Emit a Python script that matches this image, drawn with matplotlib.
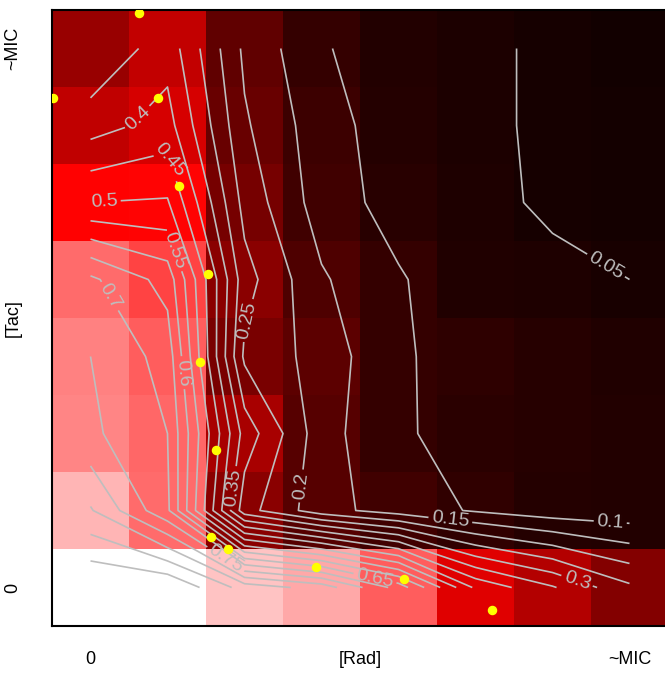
import numpy as np
import matplotlib
matplotlib.use("Agg")
import matplotlib.pyplot as plt
from matplotlib.colors import LinearSegmentedColormap

plt.rcParams['font.family'] = ['Liberation Sans', 'DejaVu Sans']

# surviving fraction, rows = [Tac] from 0 up to ~MIC, cols = [Rad] from 0 up to ~MIC
row_tac0 = [1.00, 1.00, 0.88, 0.83, 0.68, 0.44, 0.355, 0.26]
row_tac1 = [0.855, 0.71, 0.27, 0.17, 0.125, 0.095, 0.072, 0.068]
row_tac2 = [0.76, 0.70, 0.33, 0.17, 0.105, 0.085, 0.078, 0.07]
row_tac3 = [0.75, 0.68, 0.24, 0.18, 0.103, 0.09, 0.075, 0.065]
row_tac4 = [0.71, 0.63, 0.27, 0.156, 0.105, 0.065, 0.059, 0.05]
row_tac5 = [0.50, 0.505, 0.232, 0.126, 0.08, 0.06, 0.044, 0.04]
row_tac6 = [0.378, 0.42, 0.207, 0.121, 0.073, 0.058, 0.043, 0.04]
row_tac7 = [0.30, 0.38, 0.19, 0.105, 0.07, 0.058, 0.043, 0.038]

# isobole points (grid index units)
pts_rad = [0.63, -0.487, 0.877, 1.149, 1.522, 1.422, 1.634, 1.565, 1.782, 2.925, 4.067, 5.21]
pts_tac = [7.465, 6.357, 6.357, 5.214, 4.071, 2.929, 1.786, 0.656, 0.496, 0.27, 0.11, -0.292]

levels = [0.05, 0.1, 0.15, 0.2, 0.25, 0.3, 0.35, 0.4, 0.45, 0.5,
          0.55, 0.6, 0.65, 0.7, 0.75, 0.8, 0.85, 0.9, 0.95]
label_levels = levels[:15]

# where the contour labels sit
label_spots = [(0.51, 6.2), (1.03, 5.55), (0.18, 4.97), (1.1, 4.38),
               (0.28, 3.8), (1.2, 2.79), (2.11, 3.45), (1.8, 1.3),
               (2.9, 1.3), (1.75, 0.36), (3.69, 0.1), (4.67, 0.85),
               (6.75, 0.85), (6.33, 0.12), (6.7, 4.19)]

z = np.array([row_tac0, row_tac1, row_tac2, row_tac3,
              row_tac4, row_tac5, row_tac6, row_tac7])
n = z.shape[0]
xs = np.arange(n)
ys = np.arange(n)

cmap = LinearSegmentedColormap.from_list("brw", ["black", "red", "white"])

fig = plt.figure(figsize=(6.65, 6.87), dpi=100)
ax = fig.add_axes([52/665, 61/687, 616/665, 616/687])

ax.imshow(z, origin="lower", cmap=cmap, vmin=0, vmax=1,
          extent=(-0.5, n-0.5, -0.5, n-0.5), aspect="auto", interpolation="nearest")
cs = ax.contour(xs, ys, z, levels=levels, colors="#BEBEBE", linewidths=1.2)
ax.clabel(cs, label_levels, inline=True, fmt="%g", fontsize=14, colors="#BEBEBE",
          manual=label_spots, inline_spacing=3)

ax.scatter(pts_rad, pts_tac, s=34, color="yellow", zorder=5, clip_on=True)

ax.set_xlim(-0.5, n-0.5)
ax.set_ylim(-0.5, n-0.5)
ax.set_xticks([0, (n-1)/2, n-1])
ax.set_xticklabels(["0", "[Rad]", "~MIC"], fontsize=13)
ax.set_yticks([0, (n-1)/2, n-1])
ax.set_yticklabels(["0", "[Tac]", "~MIC"], fontsize=13, rotation=90, va="center")
ax.tick_params(axis="x", length=0, pad=18)
ax.tick_params(axis="y", length=0, pad=22)
for s in ax.spines.values():
    s.set_linewidth(1.5)

fig.savefig("out.png", dpi=100)
